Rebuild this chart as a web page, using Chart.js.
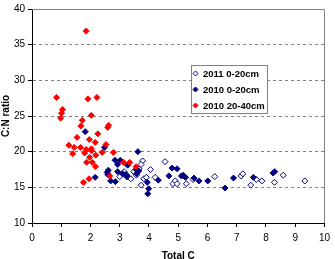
<!DOCTYPE html>
<html><head><meta charset="utf-8">
<script src="https://cdn.jsdelivr.net/npm/chart.js@4"></script>
<style>html,body{margin:0;padding:0;background:#fff}#wrap{width:335px;height:259px}</style>
</head><body><div id="wrap"><canvas id="c" width="335" height="259"></canvas></div>
<script>
const seriesLabels = ['2011 0-20cm', '2010 0-20cm', '2010 20-40cm'];
const xTicks = [0,1,2,3,4,5,6,7,8,9,10];
const yTicks = [10,15,20,25,30,35,40];
const s2011 = [[3.00,16.5],[3.09,16.9],[3.15,17.2],[3.27,16.5],[3.38,16.2],[3.48,17.2],[3.57,16.7],[3.66,17.6],[3.78,18.7],[3.73,18.2],[3.73,15.3],[3.82,16.2],[3.91,16.4],[4.05,17.5],[4.21,16.4],[4.55,18.6],[4.82,15.5],[4.90,15.9],[4.96,15.5],[5.28,15.5],[5.51,16.1],[6.25,16.5],[7.15,16.6],[7.21,16.9],[7.48,15.3],[7.67,16.1],[7.86,15.9],[8.29,15.7],[8.59,16.7],[9.33,15.9]];
const s2010top = [[1.82,22.8],[2.48,20.6],[3.62,20.0],[2.16,16.4],[2.84,18.8],[3.02,18.8],[2.93,18.2],[3.27,18.1],[2.61,17.4],[2.57,17.1],[2.59,16.8],[2.69,15.9],[2.85,15.8],[2.93,17.2],[3.11,16.9],[3.22,16.8],[3.24,16.5],[3.56,17.5],[3.65,17.3],[3.58,16.9],[3.94,15.7],[3.99,14.8],[3.96,14.1],[4.32,16.0],[4.68,16.6],[4.79,17.7],[4.96,17.6],[5.11,16.6],[5.17,16.7],[5.25,16.4],[5.54,16.3],[5.71,15.9],[6.01,15.9],[6.60,14.9],[6.89,16.3],[7.57,16.4],[8.24,17.0],[8.30,17.2]];
const s2010deep = [[0.84,27.6],[1.85,36.9],[1.91,27.4],[2.22,27.6],[1.04,25.9],[1.01,25.4],[0.98,24.7],[2.03,25.1],[1.72,24.4],[1.67,23.6],[2.59,23.4],[2.62,23.7],[1.54,22.0],[2.25,22.5],[1.26,20.9],[1.96,21.7],[2.16,21.3],[2.53,21.0],[1.44,20.6],[1.66,20.6],[1.85,20.3],[2.03,20.4],[2.04,20.1],[2.40,19.9],[2.78,19.9],[1.39,19.7],[1.80,19.8],[1.97,19.2],[2.18,19.5],[1.87,18.5],[2.06,18.5],[2.17,17.9],[1.76,15.7],[1.95,16.2],[3.13,18.5],[3.34,18.5],[3.56,17.9],[2.66,16.6]];

const toPts = a => a.map(p => ({x:p[0], y:p[1]}));
const FONT = "'Liberation Sans', Arial, sans-serif";

const datasets = [
  {label: seriesLabels[0], data: toPts(s2011), pointStyle:'rectRot', pointRadius:3, backgroundColor:'#ffffff', borderColor:'#000080', pointBorderWidth:1, order:2},
  {label: seriesLabels[1], data: toPts(s2010top), pointStyle:'rectRot', pointRadius:3, backgroundColor:'#000080', borderColor:'#000080', pointBorderWidth:1, order:1},
  {label: seriesLabels[2], data: toPts(s2010deep), pointStyle:'rectRot', pointRadius:3, backgroundColor:'#ff0000', borderColor:'#ff0000', pointBorderWidth:1, order:0}
];

const framePlugin = {
  id:'frame',
  beforeDatasetsDraw(chart){
    const {ctx, chartArea:a} = chart;
    ctx.save();
    ctx.strokeStyle = '#808080'; ctx.lineWidth = 1;
    ctx.beginPath();
    ctx.moveTo(a.left, Math.round(a.top)+0.5);
    ctx.lineTo(Math.round(a.right)+0.5, Math.round(a.top)+0.5);
    ctx.lineTo(Math.round(a.right)+0.5, a.bottom);
    ctx.stroke();
    ctx.restore();
  },
  afterDatasetsDraw(chart){
    const ctx = chart.ctx;
    const bx = 191, by = 65, bw = 76, bh = 48;
    ctx.save();
    ctx.fillStyle = '#ffffff';
    ctx.fillRect(bx, by, bw, bh);
    ctx.strokeStyle = '#808080'; ctx.lineWidth = 1;
    ctx.strokeRect(bx+0.5, by+0.5, bw, bh);
    ctx.font = "bold 9.5px " + FONT;
    ctx.textBaseline = 'middle';
    chart.data.datasets.forEach((ds, i) => {
      const y = by + 8.5 + i*16;
      ctx.fillStyle = ds.backgroundColor; ctx.strokeStyle = ds.borderColor; ctx.lineWidth = 1;
      ctx.beginPath();
      ctx.moveTo(bx+4.5, y-2.5); ctx.lineTo(bx+7, y); ctx.lineTo(bx+4.5, y+2.5); ctx.lineTo(bx+2, y); ctx.closePath();
      ctx.fill(); ctx.stroke();
      ctx.fillStyle = '#000';
      ctx.fillText(ds.label, bx+12, y+0.5);
    });
    ctx.restore();
  }
};

new Chart(document.getElementById('c'), {
  type:'scatter',
  data:{datasets},
  plugins:[framePlugin],
  options:{
    responsive:false, animation:false,
    layout:{padding:{left:0, right:7, top:8, bottom:0}},
    plugins:{legend:{display:false}, tooltip:{enabled:false}},
    scales:{
      x:{
        type:'linear', min:0, max:10,
        afterBuildTicks: s => { s.ticks = xTicks.map(v => ({value:v})); },
        afterFit: s => { s.height = 36; },
        grid:{drawOnChartArea:false, drawTicks:true, tickLength:4, tickColor:'#000'},
        border:{display:true, color:'#000', width:1},
        ticks:{color:'#000', font:{family:FONT, size:10}, padding:5, maxRotation:0, autoSkip:false},
        title:{display:true, text:'Total C', color:'#000', font:{family:FONT, size:10, weight:'bold'}, padding:{top:0,bottom:-3}}
      },
      y:{
        type:'linear', min:10, max:40,
        afterBuildTicks: s => { s.ticks = yTicks.map(v => ({value:v})); },
        afterFit: s => { s.width = 32; },
        grid:{
          color: c => (c.tick && c.tick.value > 10 && c.tick.value < 40) ? '#808080' : 'rgba(0,0,0,0)',
          drawTicks:true, tickLength:4, tickColor:'#000', tickBorderDash:[]
        },
        border:{display:true, color:'#000', width:1, dash:[3,3]},
        ticks:{color:'#000', font:{family:FONT, size:10}, padding:3, autoSkip:false},
        title:{display:true, text:'C:N ratio', color:'#000', font:{family:FONT, size:10, weight:'bold'}, padding:{top:0,bottom:0}}
      }
    }
  }
});
</script>
</body></html>
